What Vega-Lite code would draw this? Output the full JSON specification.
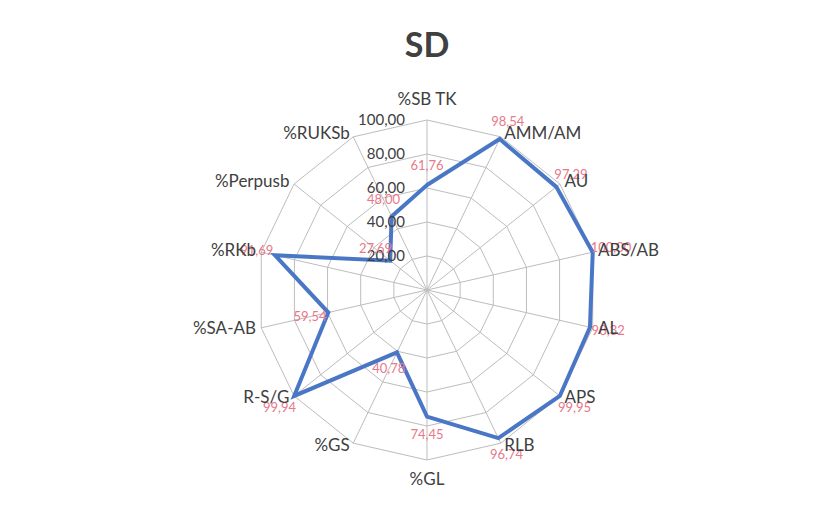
{
  "$schema": "https://vega.github.io/schema/vega-lite/v6.json",
  "width": 340,
  "height": 340,
  "autosize": {"type": "none"},
  "padding": {"left": 257, "top": 120, "right": 236, "bottom": 50},
  "background": "white",
  "title": {"text": "SD", "fontSize": 34, "font": "Lato", "fontWeight": "bold", "color": "#404040", "offset": 27, "anchor": "middle"},
  "config": {
    "view": {"stroke": null},
    "locale": {"number": {"decimal": ",", "thousands": ".", "grouping": [3], "currency": ["", ""]}}
  },
  "datasets": {
    "scores": [
      {"cat": "%SB TK", "i": 0, "v": 61.76},
      {"cat": "AMM/AM", "i": 1, "v": 98.54},
      {"cat": "AU", "i": 2, "v": 97.29},
      {"cat": "ABS/AB", "i": 3, "v": 100.0},
      {"cat": "AL", "i": 4, "v": 98.32},
      {"cat": "APS", "i": 5, "v": 99.95},
      {"cat": "RLB", "i": 6, "v": 96.74},
      {"cat": "%GL", "i": 7, "v": 74.45},
      {"cat": "%GS", "i": 8, "v": 40.78},
      {"cat": "R-S/G", "i": 9, "v": 99.94},
      {"cat": "%SA-AB", "i": 10, "v": 59.54},
      {"cat": "%RKb", "i": 11, "v": 91.69},
      {"cat": "%Perpusb", "i": 12, "v": 27.69},
      {"cat": "%RUKSb", "i": 13, "v": 48.0}
    ],
    "grid": [
      {"level": 20, "i": [0,1,2,3,4,5,6,7,8,9,10,11,12,13]},
      {"level": 40, "i": [0,1,2,3,4,5,6,7,8,9,10,11,12,13]},
      {"level": 60, "i": [0,1,2,3,4,5,6,7,8,9,10,11,12,13]},
      {"level": 80, "i": [0,1,2,3,4,5,6,7,8,9,10,11,12,13]},
      {"level": 100, "i": [0,1,2,3,4,5,6,7,8,9,10,11,12,13]}
    ],
    "ticks": [{"level": 20}, {"level": 40}, {"level": 60}, {"level": 80}, {"level": 100}]
  },
  "layer": [
    {
      "data": {"name": "grid"},
      "transform": [
        {"flatten": ["i"]},
        {"calculate": "datum.i*2*PI/14", "as": "a"},
        {"calculate": "datum.level*sin(datum.a)", "as": "x"},
        {"calculate": "datum.level*cos(datum.a)", "as": "y"}
      ],
      "mark": {"type": "line", "interpolate": "linear-closed", "color": "#bdbdbd", "strokeWidth": 1},
      "encoding": {
        "x": {"field": "x", "type": "quantitative", "scale": {"domain": [-100, 100], "nice": false, "zero": false}, "axis": null},
        "y": {"field": "y", "type": "quantitative", "scale": {"domain": [-100, 100], "nice": false, "zero": false}, "axis": null},
        "detail": {"field": "level"},
        "order": {"field": "i"}
      }
    },
    {
      "data": {"name": "scores"},
      "transform": [
        {"calculate": "datum.i*2*PI/14", "as": "a"},
        {"calculate": "100*sin(datum.a)", "as": "x"},
        {"calculate": "100*cos(datum.a)", "as": "y"}
      ],
      "mark": {"type": "rule", "color": "#bdbdbd", "strokeWidth": 1},
      "encoding": {
        "x": {"field": "x", "type": "quantitative"},
        "y": {"field": "y", "type": "quantitative"},
        "x2": {"datum": 0},
        "y2": {"datum": 0}
      }
    },
    {
      "data": {"name": "scores"},
      "transform": [
        {"calculate": "datum.i*2*PI/14", "as": "a"},
        {"calculate": "datum.v*sin(datum.a)", "as": "x"},
        {"calculate": "datum.v*cos(datum.a)", "as": "y"}
      ],
      "mark": {"type": "line", "interpolate": "linear-closed", "color": "#4a76c6", "strokeWidth": 4, "strokeJoin": "miter"},
      "encoding": {
        "x": {"field": "x", "type": "quantitative"},
        "y": {"field": "y", "type": "quantitative"},
        "order": {"field": "i"}
      }
    },
    {
      "data": {"name": "ticks"},
      "mark": {"type": "text", "align": "right", "baseline": "middle", "dx": -22, "font": "Lato", "fontSize": 15, "color": "#404040"},
      "encoding": {
        "x": {"datum": 0, "type": "quantitative"},
        "y": {"field": "level", "type": "quantitative"},
        "text": {"field": "level", "type": "quantitative", "format": ".2f"}
      }
    },
    {
      "data": {"name": "scores"},
      "transform": [
        {"calculate": "datum.i*2*PI/14", "as": "a"},
        {"calculate": "(datum.v+11)*sin(datum.a)", "as": "x"},
        {"calculate": "(datum.v+11)*cos(datum.a)", "as": "y"}
      ],
      "mark": {"type": "text", "align": "center", "baseline": "middle", "font": "Lato", "fontSize": 13, "color": "#e8788a"},
      "encoding": {
        "x": {"field": "x", "type": "quantitative"},
        "y": {"field": "y", "type": "quantitative"},
        "text": {"field": "v", "type": "quantitative", "format": ".2f"}
      }
    },
    {
      "data": {"name": "scores"},
      "transform": [
        {"filter": "datum.i >= 1 && datum.i <= 6"},
        {"calculate": "datum.i*2*PI/14", "as": "a"},
        {"calculate": "102*sin(datum.a)", "as": "x"},
        {"calculate": "102*cos(datum.a)", "as": "y"}
      ],
      "mark": {"type": "text", "align": "left", "baseline": "middle", "dx": 2, "font": "Lato", "fontSize": 17, "color": "#404040"},
      "encoding": {
        "x": {"field": "x", "type": "quantitative"},
        "y": {"field": "y", "type": "quantitative"},
        "text": {"field": "cat"}
      }
    },
    {
      "data": {"name": "scores"},
      "transform": [
        {"filter": "datum.i >= 8"},
        {"calculate": "datum.i*2*PI/14", "as": "a"},
        {"calculate": "102*sin(datum.a)", "as": "x"},
        {"calculate": "102*cos(datum.a)", "as": "y"}
      ],
      "mark": {"type": "text", "align": "right", "baseline": "middle", "dx": -2, "font": "Lato", "fontSize": 17, "color": "#404040"},
      "encoding": {
        "x": {"field": "x", "type": "quantitative"},
        "y": {"field": "y", "type": "quantitative"},
        "text": {"field": "cat"}
      }
    },
    {
      "data": {"name": "scores"},
      "transform": [
        {"filter": "datum.i == 0 || datum.i == 7"},
        {"calculate": "datum.i*2*PI/14", "as": "a"},
        {"calculate": "112*sin(datum.a)", "as": "x"},
        {"calculate": "112*cos(datum.a)", "as": "y"}
      ],
      "mark": {"type": "text", "align": "center", "baseline": "middle", "font": "Lato", "fontSize": 17, "color": "#404040"},
      "encoding": {
        "x": {"field": "x", "type": "quantitative"},
        "y": {"field": "y", "type": "quantitative"},
        "text": {"field": "cat"}
      }
    }
  ]
}
